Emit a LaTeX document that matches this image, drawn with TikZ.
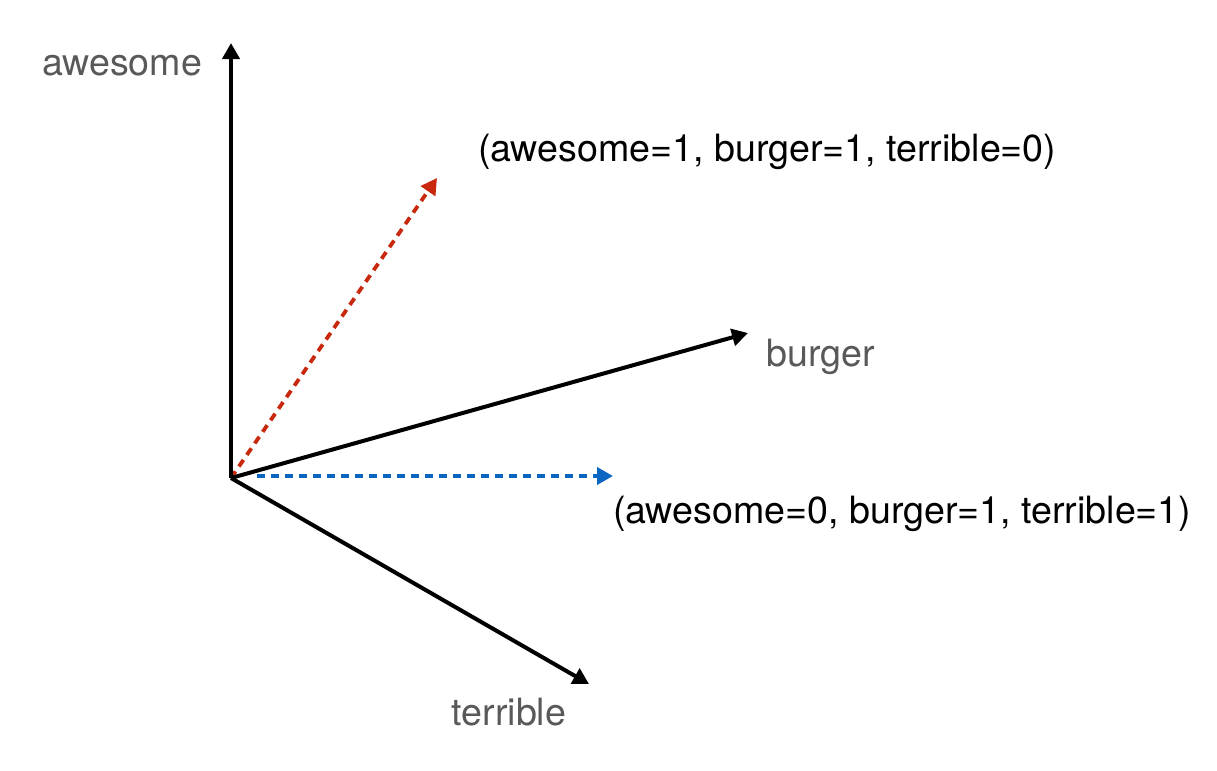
\documentclass[tikz,border=0pt]{standalone}
\usepackage{fontspec}
\setmainfont{TeX Gyre Heros}
\usetikzlibrary{arrows.meta}
\definecolor{vecred}{HTML}{C8290E}
\definecolor{vecblue}{HTML}{0B66C2}
\definecolor{axisgray}{HTML}{595959}
\tikzset{%
  axis/.style    = {line width=2pt, -{Triangle[length=8pt,width=8.5pt]}},%
  vec/.style     = {line width=1.9pt, dash pattern=on 4pt off 3pt,%
                    -{Triangle[length=8pt,width=8.5pt]}},%
  axislabel/.style = {text=axisgray, font=\fontsize{18.8}{22}\selectfont},%
  veclabel/.style  = {text=black, font=\fontsize{18.8}{22}\selectfont, anchor=west}%
}
\begin{document}
\begin{tikzpicture}[x=0.5pt,y=-0.5pt]
	\useasboundingbox (0,0) rectangle (1217,771);
	\coordinate (O) at (231,478);
	\coordinate (awesome) at (231,43);
	\coordinate (burger) at (748,333);
	\coordinate (terrible) at (589,684);
	\coordinate (v1) at (437,178);
	\coordinate (v0s) at (257,476);
	\coordinate (v0) at (613,476);
	\draw [vec, vecred] (O) -- (v1);
	\draw [vec, vecblue] (v0s) -- (v0);
	\draw [axis] (O) -- (awesome);
	\draw [axis] (O) -- (burger);
	\draw [axis] (O) -- (terrible);
	\node [axislabel] (lawesome) at (122,66) {awesome};
	\node [axislabel] (lburger) at (821,357) {burger};
	\node [axislabel] (lterrible) at (509,712) {terrible};
	\node [veclabel] (lv1) at (471,152) {(awesome=1, burger=1, terrible=0)};
	\node [veclabel] (lv0) at (606,514) {(awesome=0, burger=1, terrible=1)};
\end{tikzpicture}
\end{document}
